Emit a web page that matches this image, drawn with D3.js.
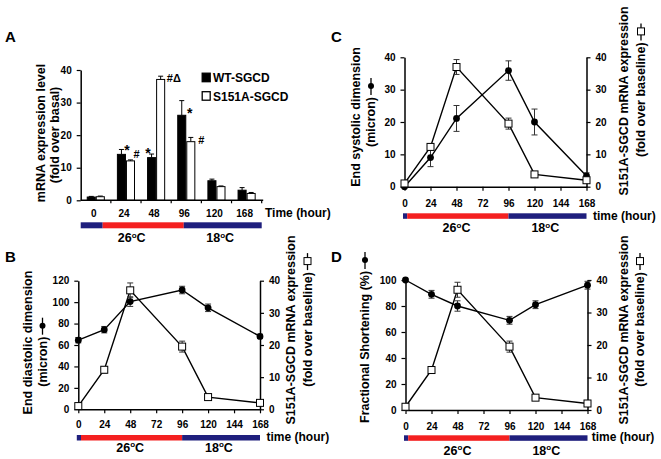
<!DOCTYPE html>
<html><head><meta charset="utf-8">
<script src="https://cdn.jsdelivr.net/npm/d3@7"></script>
<style>
body{margin:0;background:#fff}
svg text{font-family:"Liberation Sans",Arial,sans-serif;font-weight:bold;fill:#000}
</style></head><body>
<svg id="c" width="661" height="459"></svg>
<script>
// ---------- data ----------
const timeCats = ["0","24","48","96","120","168"];
const wtMean = [1.0, 14.1, 13.1, 26.1, 6.0, 3.1];
const wtErr  = [0.2, 1.5, 1.1, 4.5, 0.5, 0.8];
const saMean = [1.1, 12.1, 37.1, 18.0, 4.2, 2.1];
const saErr  = [0.2, 0.3, 1.0, 1.3, 0.2, 0.3];
const seriesNames = ["WT-SGCD", "S151A-SGCD"];

const hours = [0, 24, 48, 96, 120, 168];
const s151aFold    = [1.0, 12.3, 37.0, 19.5, 3.8, 2.0];
const s151aFoldErr = [0.3, 1.0, 2.3, 1.7, 0.8, 0.3];
const eddMean = [64.5, 74.3, 100.5, 111.3, 94.7, 68.0];
const eddErr  = [2.5, 3.0, 4.5, 3.5, 3.5, 2.0];
const esdMean = [0, 9.0, 21.1, 35.9, 20.0, 3.3];
const esdErr  = [0, 2.8, 4.0, 3.0, 4.0, 1.0];
const fsMean  = [100, 89, 80, 69, 81, 96];
const fsErr   = [0.8, 3.0, 4.0, 3.0, 3.0, 3.0];

const xTicks = [0, 24, 48, 72, 96, 120, 144, 168];
const rightTicks = [0, 10, 20, 30, 40];
const tempSegs  = [{from:0,to:2.5,c:"blue"},{from:2.5,to:96,c:"red"},{from:96,to:168,c:"blue"}];
const tempSegsA = [{from:-12,to:5.5,c:"blue"},{from:5.5,to:92,c:"red"},{from:92,to:192,c:"blue"}];
const tempLabels  = [{t:48,n:"26"},{t:130,n:"18"}];
const tempLabelsA = [{t:28.6,n:"26"},{t:126,n:"18"}];
const annotations = [
  {cat:"24", s:0, text:"*",  dx:5.5,  dy:5.4, fs:14},
  {cat:"24", s:1, text:"#",  dx:6,    dy:-2,  fs:11},
  {cat:"48", s:0, text:"*",  dx:-3.5, dy:4,   fs:14},
  {cat:"48", s:1, text:"#Δ", dx:13.2, dy:6.2, fs:11},
  {cat:"96", s:0, text:"*",  dx:8,    dy:17.3,fs:14},
  {cat:"96", s:1, text:"#",  dx:10.5, dy:6.6, fs:11}
];

// ---------- style ----------
const COL = {blue:"#1f1f7d", red:"#f42020"};
const svg = d3.select("#c");

function styleAxis(a){
  a.select(".domain").attr("stroke","#000").attr("stroke-width",1.5);
  a.selectAll(".tick line").attr("stroke","#000").attr("stroke-width",1.2);
  a.selectAll(".tick text").attr("font-size",10).attr("font-weight","bold")
    .attr("font-family",'"Liberation Sans",Arial,sans-serif').attr("fill","#000");
  a.attr("font-size",null).attr("font-family",null);
}

function tempText(g, x, y, n){
  const t = g.append("text").attr("x",x).attr("y",y).attr("text-anchor","middle").attr("font-size",12.5);
  t.append("tspan").text(n);
  t.append("tspan").attr("dy",-4.5).attr("font-size",8).text("o");
  t.append("tspan").attr("dy",4.5).text("C");
}

function vLabel(g, l){
  const grp = g.append("g").attr("transform",`translate(${l.x},${l.yc!==undefined?l.yc:l.yStart}) rotate(-90)`);
  const t = grp.append("text").attr("dy","0.35em").attr("font-size",12.5)
    .attr("text-anchor", l.yc!==undefined ? "middle":"start").text(l.text);
  if(l.sym){
    const L = t.node().getComputedTextLength();
    grp.append("line").attr("x1",L+2).attr("x2",L+19).attr("y1",0).attr("y2",0).attr("stroke","#000").attr("stroke-width",1.3);
    if(l.sym==="circle") grp.append("circle").attr("cx",L+11).attr("cy",0).attr("r",3).attr("fill","#000");
    else grp.append("rect").attr("x",L+7.5).attr("y",-3.5).attr("width",7).attr("height",7).attr("fill","#fff").attr("stroke","#000").attr("stroke-width",1);
  }
}

// ---------- Panel A ----------
(function(){
  const g = svg.append("g");
  const x = d3.scaleBand().domain(timeCats).range([80.7, 261.7]);
  const bw = x.bandwidth();
  const xs = d3.scaleBand().domain([0,1]).range([bw*0.2, bw*0.8]);
  const y = d3.scaleLinear().domain([0,40]).range([200.3, 70]);
  const series = [{m:wtMean,e:wtErr,fill:"#000"},{m:saMean,e:saErr,fill:"#fff"}];

  // bars + error bars
  series.forEach((s,si)=>{
    timeCats.forEach((c,i)=>{
      const bx = x(c)+xs(si), w = xs.bandwidth();
      const cx = bx + w/2;
      g.append("line").attr("x1",cx).attr("x2",cx).attr("y1",y(s.m[i])).attr("y2",y(s.m[i]+s.e[i])).attr("stroke","#000").attr("stroke-width",1);
      g.append("line").attr("x1",cx-2.5).attr("x2",cx+2.5).attr("y1",y(s.m[i]+s.e[i])).attr("y2",y(s.m[i]+s.e[i])).attr("stroke","#000").attr("stroke-width",1);
      g.append("rect").attr("x",bx+0.5).attr("y",y(s.m[i])).attr("width",w-1).attr("height",y(0)-y(s.m[i]))
        .attr("fill",s.fill).attr("stroke","#000").attr("stroke-width",1);
    });
  });
  // annotations
  annotations.forEach(a=>{
    const s = series[a.s];
    const i = timeCats.indexOf(a.cat);
    const cx = x(a.cat)+xs(a.s)+xs.bandwidth()/2;
    g.append("text").attr("x",cx+a.dx).attr("y",y(s.m[i]+s.e[i])+a.dy).attr("text-anchor","middle")
      .attr("font-size",a.fs).text(a.text);
  });
  // y axis
  const ay = g.append("g").attr("transform",`translate(${x.range()[0]},0)`)
    .call(d3.axisLeft(y).tickValues([0,10,20,30,40]).tickSize(4).tickSizeOuter(0).tickPadding(5));
  styleAxis(ay);
  // x axis line and boundary ticks
  g.append("line").attr("x1",x.range()[0]).attr("x2",x.range()[1]+1.5).attr("y1",y(0)).attr("y2",y(0)).attr("stroke","#000").attr("stroke-width",1.5);
  timeCats.forEach(c=>{
    g.append("line").attr("x1",x(c)+bw).attr("x2",x(c)+bw).attr("y1",y(0)).attr("y2",y(0)+3).attr("stroke","#000").attr("stroke-width",1.2);
    g.append("text").attr("x",x(c)+bw/2-2).attr("y",216.5).attr("text-anchor","middle").attr("font-size",10).text(c);
  });
  g.append("text").attr("x",265).attr("y",216.5).attr("font-size",12).text("Time (hour)");
  // legend
  const lg = g.append("g");
  seriesNames.forEach((n,i)=>{
    lg.append("rect").attr("x",202.2).attr("y",73.2+i*18.5).attr("width",8).attr("height",8.5)
      .attr("fill",series[i].fill).attr("stroke","#000").attr("stroke-width",1.3);
    lg.append("text").attr("x",213).attr("y",82+i*18.5).attr("font-size",12).text(n);
  });
  // temperature bar (piecewise time -> category position)
  const centers = timeCats.map(c=>x(c)+bw/2);
  const tx = d3.scaleLinear().domain([-12,0,24,48,96,120,168,192]).range([x.range()[0],...centers,x.range()[1]]);
  tempSegsA.forEach(s=>{
    g.append("rect").attr("x",tx(s.from)).attr("y",222.3).attr("width",tx(s.to)-tx(s.from)).attr("height",6).attr("fill",COL[s.c]);
  });
  tempLabelsA.forEach(l=>tempText(g, tx(l.t), 242, l.n));
  // labels
  g.append("text").attr("x",5).attr("y",42).attr("font-size",15).text("A");
  vLabel(g,{text:"mRNA expression level", x:41, yc:133});
  vLabel(g,{text:"(fold over basal)", x:54.5, yc:135});
})();

// ---------- line panels ----------
function linePanel(p){
  const g = svg.append("g");
  const x = d3.scaleLinear().domain([0,168]).range(p.xr);
  const yL = d3.scaleLinear().domain([0,p.leftMax]).range(p.yr);
  const yR = d3.scaleLinear().domain([0,40]).range(p.yr);

  const ax = g.append("g").attr("transform",`translate(0,${p.yr[0]})`)
    .call(d3.axisBottom(x).tickValues(xTicks).tickSize(4).tickSizeOuter(0).tickPadding(p.xpad));
  styleAxis(ax);
  const al = g.append("g").attr("transform",`translate(${p.xr[0]},0)`)
    .call(d3.axisLeft(yL).tickValues(p.leftTicks).tickSize(4).tickSizeOuter(0).tickPadding(5));
  styleAxis(al);
  const ar = g.append("g").attr("transform",`translate(${p.xr[1]},0)`)
    .call(d3.axisRight(yR).tickValues(rightTicks).tickSize(4).tickSizeOuter(0).tickPadding(5));
  styleAxis(ar);

  const mk = ys => d3.line().x((d,i)=>x(hours[i])).y(d=>ys(d));
  g.append("path").datum(p.leftMean).attr("d",mk(yL)).attr("fill","none").attr("stroke","#000").attr("stroke-width",1.4);
  g.append("path").datum(s151aFold).attr("d",mk(yR)).attr("fill","none").attr("stroke","#000").attr("stroke-width",1.4);

  function err(mean, e, ys){
    mean.forEach((m,i)=>{
      if(!e[i]) return;
      const cx = x(hours[i]);
      g.append("line").attr("x1",cx).attr("x2",cx).attr("y1",ys(m-e[i])).attr("y2",ys(m+e[i])).attr("stroke","#333").attr("stroke-width",1);
      [m-e[i], m+e[i]].forEach(v=>g.append("line").attr("x1",cx-3).attr("x2",cx+3).attr("y1",ys(v)).attr("y2",ys(v)).attr("stroke","#333").attr("stroke-width",1));
    });
  }
  err(p.leftMean, p.leftErr, yL);
  err(s151aFold, s151aFoldErr, yR);

  g.selectAll(null).data(p.leftMean).join("circle")
    .attr("cx",(d,i)=>x(hours[i])).attr("cy",d=>yL(d)).attr("r",3.4).attr("fill","#000");
  g.selectAll(null).data(s151aFold).join("rect")
    .attr("x",(d,i)=>x(hours[i])-3.5).attr("y",d=>yR(d)-3.5).attr("width",7).attr("height",7)
    .attr("fill","#fff").attr("stroke","#000").attr("stroke-width",1);

  tempSegs.forEach(s=>{
    const x0 = s.from===0 ? x(s.from)-1.5 : x(s.from);
    g.append("rect").attr("x",x0).attr("y",p.tempY).attr("width",x(s.to)-x0).attr("height",5.5).attr("fill",COL[s.c]);
  });
  tempLabels.forEach(l=>tempText(g, x(l.t), p.tempLabelY, l.n));
  g.append("text").attr("x",p.timeLabel[0]).attr("y",p.timeLabel[1]).attr("font-size",12).text("time (hour)");
  g.append("text").attr("x",p.letter[1]).attr("y",p.letter[2]).attr("font-size",15).text(p.letter[0]);
  p.labels.forEach(l=>vLabel(g,l));
}

linePanel({
  xr:[78.3,260], yr:[409.3,280.7], leftMax:120, leftTicks:[0,20,40,60,80,100,120],
  leftMean:eddMean, leftErr:eddErr, xpad:8, tempY:435, tempLabelY:451.5,
  timeLabel:[266.5,441], letter:["B",5,262],
  labels:[
    {text:"End diastolic dimension", x:28, yc:342.5},
    {text:"(micron)", x:42.5, yStart:386.7, sym:"circle"},
    {text:"S151A-SGCD mRNA expression", x:291, yc:330},
    {text:"(fold over baseline)", x:307.5, yStart:386.7, sym:"square"}
  ]
});
linePanel({
  xr:[404.5,586.5], yr:[186.7,57.3], leftMax:40, leftTicks:[0,10,20,30,40],
  leftMean:esdMean, leftErr:esdErr, xpad:9, tempY:213.3, tempLabelY:232,
  timeLabel:[593,220], letter:["C",331,42],
  labels:[
    {text:"End systolic dimension", x:356, yc:117},
    {text:"(micron)", x:371, yStart:147, sym:"circle"},
    {text:"S151A-SGCD mRNA expression", x:623.5, yc:101},
    {text:"(fold over baseline)", x:641, yStart:157, sym:"square"}
  ]
});
linePanel({
  xr:[405.5,587.5], yr:[410,280], leftMax:100, leftTicks:[0,20,40,60,80,100],
  leftMean:fsMean, leftErr:fsErr, xpad:9, tempY:435.3, tempLabelY:454.5,
  timeLabel:[591.7,441], letter:["D",331,262],
  labels:[
    {text:"Fractional Shortening (%)", x:365, yStart:423, sym:"circle"},
    {text:"S151A-SGCD mRNA expression", x:624, yc:330},
    {text:"(fold over baseline)", x:640, yStart:386.7, sym:"square"}
  ]
});
</script>
</body></html>
